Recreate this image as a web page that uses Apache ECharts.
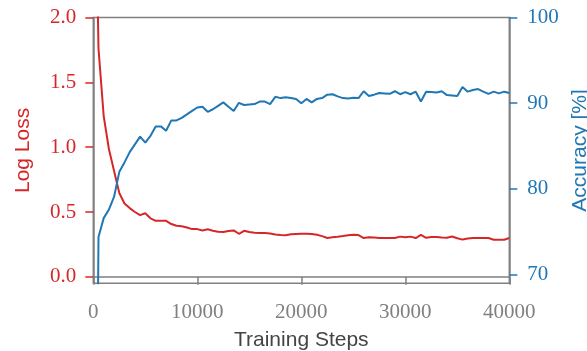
<!DOCTYPE html>
<html><head><meta charset="utf-8">
<script src="https://cdn.jsdelivr.net/npm/echarts@6/dist/echarts.min.js"></script>
<style>html,body{margin:0;padding:0;background:#fff}#c{width:587px;height:351px}</style>
</head><body><div id="c"></div>
<script>
const steps = [0,500,1000,1500,2000,2500,3000,3500,4000,4500,5000,5500,6000,6500,7000,7500,8000,8500,9000,9500,
  10000,10500,11000,11500,12000,12500,13000,13500,14000,14500,15000,15500,16000,16500,17000,17500,18000,18500,19000,19500,
  20000,20500,21000,21500,22000,22500,23000,23500,24000,24500,25000,25500,26000,26500,27000,27500,28000,28500,29000,29500,
  30000,30500,31000,31500,32000,32500,33000,33500,34000,34500,35000,35500,36000,36500,37000,37500,38000,38500,39000,39500,40000];
const logLoss = [4.0,1.76,1.24,0.986,0.816,0.646,0.565,0.53,0.50,0.476,0.49,0.451,0.432,0.432,0.432,0.407,0.394,0.39,0.38,0.368,
  0.368,0.357,0.367,0.355,0.347,0.345,0.353,0.358,0.332,0.355,0.345,0.339,0.337,0.337,0.334,0.326,0.322,0.32,0.328,0.331,
  0.332,0.332,0.331,0.324,0.314,0.299,0.305,0.309,0.314,0.32,0.324,0.322,0.299,0.305,0.303,0.299,0.299,0.299,0.299,0.31,
  0.305,0.31,0.299,0.323,0.301,0.307,0.307,0.303,0.302,0.311,0.297,0.287,0.295,0.299,0.299,0.299,0.299,0.286,0.286,0.286,0.299];
const accuracy = [1,74.4,76.6,77.6,79.1,82.0,83.1,84.3,85.2,86.1,85.4,86.2,87.3,87.3,86.8,88.0,88.0,88.3,88.7,89.1,
  89.5,89.6,89.0,89.3,89.7,90.1,89.6,89.1,90.05,89.8,89.85,89.9,90.2,90.2,89.9,90.75,90.6,90.7,90.6,90.5,
  90.0,90.5,90.1,90.5,90.6,91.0,91.05,90.8,90.6,90.55,90.65,90.6,91.4,90.85,91.0,91.2,91.15,91.1,91.4,91.05,
  91.3,91.05,91.35,90.2,91.35,91.3,91.25,91.4,90.95,90.9,90.85,91.9,91.35,91.55,91.65,91.35,91.1,91.35,91.15,91.35,91.2];
const xTicks = [0,10000,20000,30000,40000];
const lossTicks = [0,0.5,1,1.5,2];
const accTicks = [70,80,90,100];

const RED = '#d62728', BLUE = '#1f77b4', GRAY = '#808080';
const serif = 'Liberation Serif', sans = 'Liberation Sans';

const chart = echarts.init(document.getElementById('c'), null, {renderer: 'canvas'});
chart.setOption({
  animation: false,
  grid: {left: 93.3, right: 77.7, top: 17.5, bottom: 67.7, show: true, borderColor: GRAY, borderWidth: 1.5,
         containLabel: false, outerBoundsMode: 'none'},
  xAxis: {
    type: 'value', min: 0, max: 40000, interval: 10000,
    name: 'Training Steps', nameLocation: 'middle', nameGap: 46,
    nameTextStyle: {fontFamily: sans, fontSize: 21, color: '#444444'},
    axisLine: {show: true, lineStyle: {color: GRAY, width: 1.5}},
    axisTick: {show: true, inside: false, length: 8, lineStyle: {color: GRAY, width: 1.5}, customValues: xTicks},
    axisLabel: {fontFamily: serif, fontSize: 21, color: GRAY, margin: 19, customValues: xTicks,
                showMinLabel: true, showMaxLabel: true, formatter: v => String(v)},
    splitLine: {show: false}
  },
  yAxis: [{
    type: 'value', position: 'left', min: -0.05, max: 2.0,
    name: 'Log Loss', nameLocation: 'middle', nameGap: 60,
    nameTextStyle: {fontFamily: sans, fontSize: 21, color: RED},
    axisLine: {show: true, lineStyle: {color: GRAY, width: 1.5}},
    axisTick: {show: true, length: 8, lineStyle: {color: RED, width: 1.5}, customValues: lossTicks},
    axisLabel: {fontFamily: serif, fontSize: 21, color: RED, margin: 17, customValues: lossTicks, formatter: v => v.toFixed(1)},
    splitLine: {show: false}
  }, {
    type: 'value', position: 'right', min: 69, max: 100,
    name: 'Accuracy [%]', nameLocation: 'middle', nameGap: 49,
    nameTextStyle: {fontFamily: sans, fontSize: 21, color: BLUE},
    axisLine: {show: true, lineStyle: {color: GRAY, width: 1.5}},
    axisTick: {show: true, length: 8, lineStyle: {color: BLUE, width: 1.5}, customValues: accTicks},
    axisLabel: {fontFamily: serif, fontSize: 21, color: BLUE, margin: 18, customValues: accTicks},
    splitLine: {show: false}
  }],
  series: [{
    type: 'line', yAxisIndex: 0, showSymbol: false, symbol: 'none', clip: true,
    lineStyle: {color: RED, width: 2}, itemStyle: {color: RED},
    data: steps.map((s, i) => [s, logLoss[i]])
  }, {
    type: 'line', yAxisIndex: 1, showSymbol: false, symbol: 'none', clip: true,
    lineStyle: {color: BLUE, width: 2}, itemStyle: {color: BLUE},
    data: steps.map((s, i) => [s, accuracy[i]])
  }]
});
</script>
</body></html>
